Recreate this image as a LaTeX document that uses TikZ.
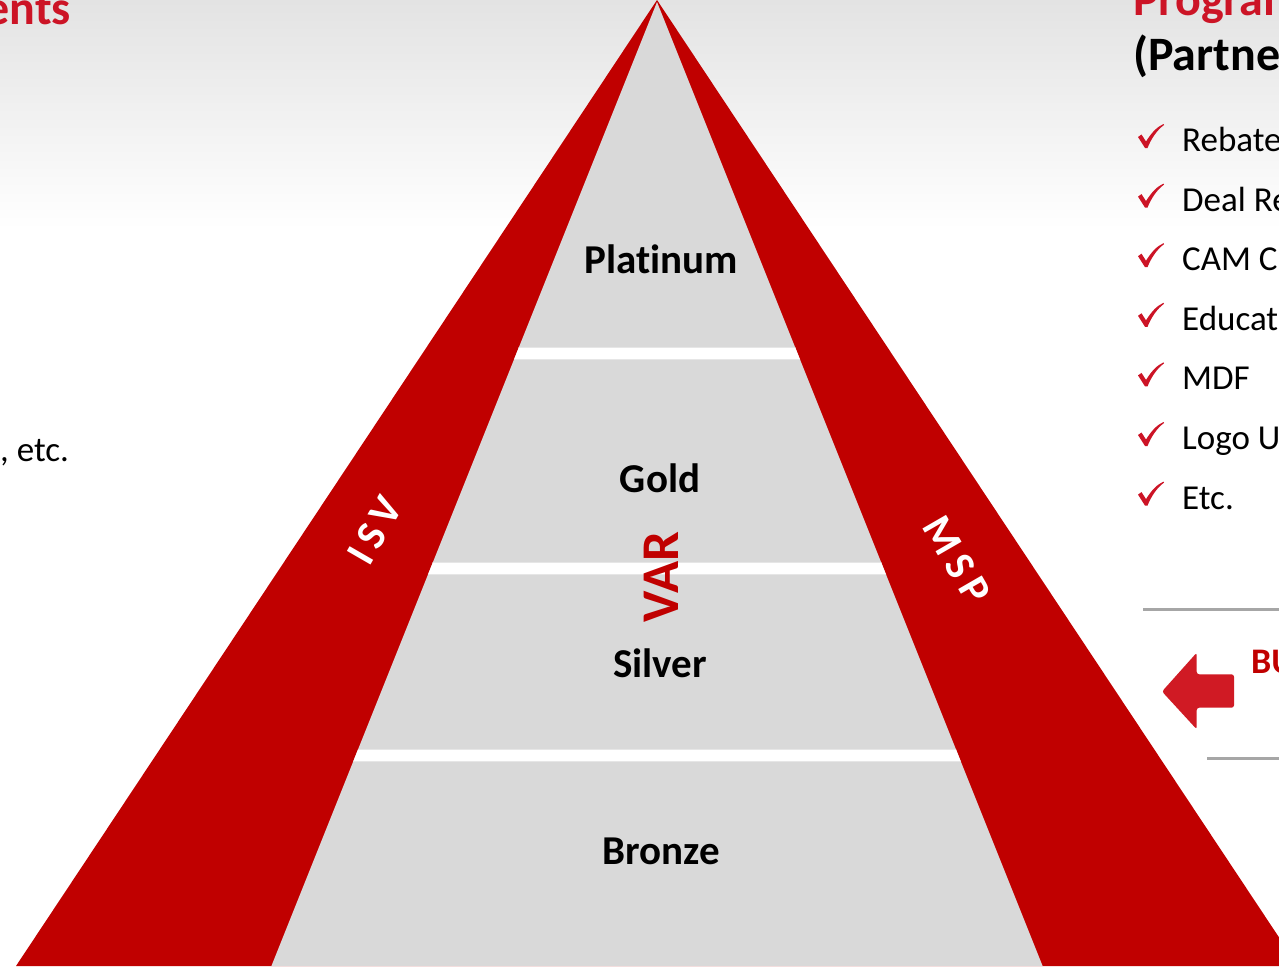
\documentclass[tikz,border=0pt]{standalone}
\usepackage{fontspec}
\setmainfont{Carlito}[Ligatures=NoCommon]
\definecolor{tred}{HTML}{C00000}
\definecolor{hred}{HTML}{CC1426}
\definecolor{tgray}{HTML}{D9D9D9}
\definecolor{agred}{HTML}{D01A24}
\definecolor{lgray}{HTML}{A6A6A6}
\definecolor{bgtop}{HTML}{E3E3E3}
\definecolor{edgegray}{HTML}{E6E6E6}
\tikzset{
  tier/.style={inner sep=0pt, anchor=base, font=\bfseries\fontsize{41}{41}\selectfont, text=black},
  bandlabel/.style={inner sep=0pt, font=\bfseries\fontsize{42}{42}\selectfont, text=white},
  heading/.style={inner sep=0pt, font=\bfseries\fontsize{48}{48}\selectfont},
  item/.style={inner sep=0pt, anchor=base west, font=\fontsize{35}{35}\selectfont, text=black},
  sepline/.style={draw=lgray, line width=2.5pt},
  chk/.pic={\fill[hred] (0,13) -- (3.5,10.5) -- (8,17.5) .. controls (14,8) and (19,3) .. (25.5,0) -- (26,1) .. controls (19,6) and (13,15) .. (9.5,24) -- (7,24) -- cycle;}
}
\begin{document}
\begin{tikzpicture}[x=1pt,y=-1pt]
\useasboundingbox (0,0) rectangle (1279,966);
\fill[white] (0,0) rectangle (1279,966);
\shade[top color=bgtop, bottom color=white] (0,0) rectangle (1279,230);
% pyramid
\fill[tred] (657,0) -- (16,966) -- (1298,966) -- cycle;
\fill[tgray] (657,2) -- (271.4,966) -- (1042.6,966) -- cycle;
\begin{scope}
  \clip (657,2) -- (271.4,966) -- (1042.6,966) -- cycle;
  \foreach \a/\b in {347/359, 562/574, 749/761}{
    \fill[white] (0,\a) rectangle (1279,\b);
    \draw[edgegray, line width=0.8pt] (0,\a) -- (1279,\a) (0,\b) -- (1279,\b);
  }
\end{scope}
\node[tier] (plat) at (661,273) {Platinum};
\node[tier] (gold) at (660,492.5) {Gold};
\node[tier] (silver) at (660,677.5) {Silver};
\node[tier] (bronze) at (661,864.5) {Bronze};
\node[inner sep=0pt, rotate=90, font=\bfseries\fontsize{53}{53}\selectfont, text=tred] (var) at (661,577) {VAR};
\node[bandlabel, rotate=60] (isv) at (375,530) {I\hspace{7pt}S\hspace{7pt}V};
\node[bandlabel, rotate=-60] (msp) at (957,560) {M\hspace{7pt}S\hspace{7pt}P};
% left texts
\node[heading, anchor=base east, text=hred] (ents) at (71,25) {ents};
\node[item] (etc) at (0,461) {, etc.};
% right texts
\node[heading, anchor=base west, text=hred] (prog) at (1133,15.5) {Program};
\node[heading, anchor=base west, text=black] (partner) at (1133,70.6) {(Partne};
\foreach \t [count=\i from 0] in {Rebate, Deal Re, CAM C, Educat, MDF, Logo U, Etc.}{
  \pgfmathsetmacro{\yb}{151.5+59.6*\i}
  \node[item] (item\i) at (1182,\yb) {\t};
  \pic at (1138,\yb-27.5) {chk};
}
\draw[sepline] (1143,609.3) -- (1279,609.3);
\draw[sepline] (1207,758.3) -- (1279,758.3);
\fill[agred, rounded corners=2.5pt] (1162,691.5) -- (1196.7,652.7) -- (1196.7,674.3) -- (1234,674.3) -- (1234,707.7) -- (1196.7,707.7) -- (1196.7,729.3) -- cycle;
\node[inner sep=0pt, anchor=base west, font=\bfseries\fontsize{36}{36}\selectfont, text=tred] (bu) at (1251,673.3) {BU};
\end{tikzpicture}
\end{document}
